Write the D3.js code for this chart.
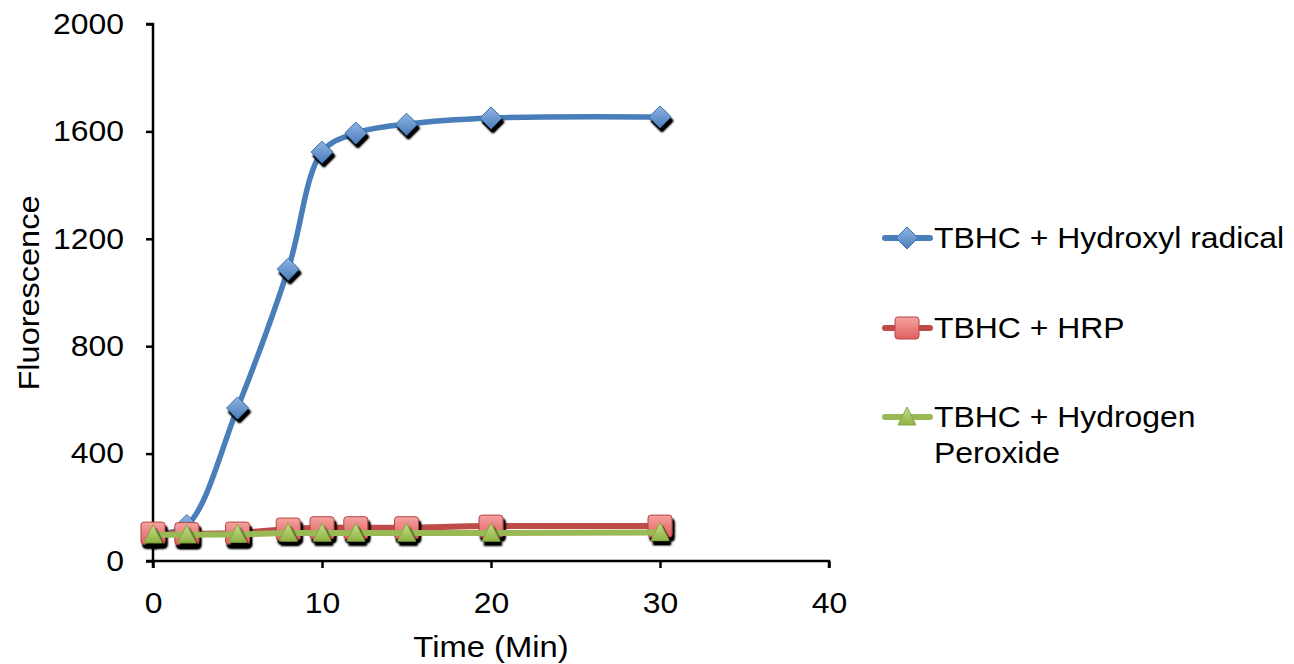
<!DOCTYPE html>
<html><head><meta charset="utf-8">
<script src="https://cdn.jsdelivr.net/npm/d3@7"></script>
<style>body{margin:0;background:#fff}text{font-family:"Liberation Sans",Arial,sans-serif}</style>
</head><body>
<svg id="c" width="1294" height="664"></svg>
<script>
const times = [0, 2, 5, 8, 10, 12, 15, 20, 30];
const hydroxyl = [100, 132, 570, 1087, 1523, 1594, 1627, 1650, 1654];
const hrp = [104, 102, 104, 119, 124, 124, 124, 130, 130];
const peroxide = [98, 98, 100, 104, 104, 104, 104, 104, 106];
const xTicks = [0, 10, 20, 30, 40];
const yTicks = [0, 400, 800, 1200, 1600, 2000];
const seriesNames = ["TBHC + Hydroxyl radical", "TBHC + HRP", "TBHC + Hydrogen Peroxide"];

const FS = 29, STRETCH = 1.1;
const svg = d3.select("#c");
const x = d3.scaleLinear().domain([0, 40]).range([153, 829]);
const y = d3.scaleLinear().domain([0, 2000]).range([561, 24]);

function stretch(sel, k){
  sel.each(function(){
    const n = this; const w = n.getComputedTextLength();
    d3.select(n).attr("textLength", w*k).attr("lengthAdjust","spacingAndGlyphs");
  });
}

const defs = svg.append("defs");
const f = defs.append("filter").attr("id","sh").attr("x","-50%").attr("y","-50%").attr("width","200%").attr("height","200%");
f.append("feGaussianBlur").attr("in","SourceAlpha").attr("stdDeviation",1.3).attr("result","b");
f.append("feOffset").attr("in","b").attr("dx",2).attr("dy",4).attr("result","o");
f.append("feComponentTransfer").attr("in","o").attr("result","o2").append("feFuncA").attr("type","linear").attr("slope",1.5);
const m = f.append("feMerge"); m.append("feMergeNode").attr("in","o2"); m.append("feMergeNode").attr("in","SourceGraphic");

function grad(id, c1, c2){
  const g = defs.append("linearGradient").attr("id",id).attr("x1",0).attr("y1",0).attr("x2",0).attr("y2",1);
  g.append("stop").attr("offset","0%").attr("stop-color",c1);
  g.append("stop").attr("offset","100%").attr("stop-color",c2);
}
grad("gb","#8fb4e3","#4a7ebb");
grad("gr","#f4a3a1","#e0605d");
grad("gg","#c6e08a","#8fb244");

// axes
const ax = svg.append("g").attr("transform",`translate(0,${y(0)})`)
  .call(d3.axisBottom(x).tickValues(xTicks).tickFormat(d3.format("d")).tickSize(7).tickPadding(24));
const ay = svg.append("g").attr("transform",`translate(${x(0)},0)`)
  .call(d3.axisLeft(y).tickValues(yTicks).tickFormat(d3.format("d")).tickSize(7).tickPadding(22));
[ax, ay].forEach(a => {
  a.attr("font-size", FS).attr("font-family", "'Liberation Sans',Arial,sans-serif");
  a.select(".domain").attr("stroke","#000").attr("stroke-width",2.5);
  a.selectAll(".tick line").attr("stroke","#000").attr("stroke-width",2.5);
  a.selectAll("text").attr("font-size",FS).attr("fill","#000");
  stretch(a.selectAll("text"), STRETCH);
});
ay.select(".domain").attr("d", `M-7,${y(2000)}H0V${y(0)}H-7`);
ax.select(".domain").attr("d", `M${x(0)},7V0H${x(40)}V7`);

svg.append("text").attr("x",491).attr("y",657).attr("text-anchor","middle").attr("font-size",FS).text("Time (Min)").call(stretch, 1.13);
svg.append("text").attr("transform","translate(39,293) rotate(-90)").attr("text-anchor","middle").attr("font-size",FS).text("Fluorescence").call(stretch, 1.12);

const series = [
  {name: seriesNames[0], vals: hydroxyl, line:"#4a7ebb", fill:"url(#gb)", stroke:"#3f6fa8", shape:"diamond", w:5.5},
  {name: seriesNames[1], vals: hrp, line:"#be4b48", fill:"url(#gr)", stroke:"#b54542", shape:"square", w:6},
  {name: seriesNames[2], vals: peroxide, line:"#98b954", fill:"url(#gg)", stroke:"#86a742", shape:"triangle", w:6}
];

function marker(sel, shape){
  if (shape === "diamond") sel.append("path").attr("d","M0,-11L11,0L0,11L-11,0Z");
  else if (shape === "square") sel.append("rect").attr("x",-12).attr("y",-11).attr("width",24).attr("height",22).attr("rx",3);
  else sel.append("path").attr("d","M0,-10L9,8L-9,8Z");
}

const lineGen = d3.line().x(d=>x(d[0])).y(d=>y(d[1])).curve(d3.curveCatmullRom.alpha(0.5));
series.forEach(s => {
  const pts = times.map((t,i)=>[t, s.vals[i]]);
  svg.append("path").attr("d", lineGen(pts)).attr("fill","none").attr("stroke",s.line).attr("stroke-width",s.w).attr("stroke-linecap","round");
  const g = svg.append("g").attr("filter","url(#sh)");
  pts.forEach(p => {
    const mk = g.append("g").attr("transform",`translate(${x(p[0])},${y(p[1])})`).attr("fill",s.fill).attr("stroke",s.stroke).attr("stroke-width",1);
    marker(mk, s.shape);
  });
});

// legend
const legY = [238, 328, 417];
series.forEach((s,i) => {
  const g = svg.append("g").attr("transform",`translate(0,${legY[i]})`);
  g.append("line").attr("x1",885).attr("x2",930).attr("y1",0).attr("y2",0).attr("stroke",s.line).attr("stroke-width",6).attr("stroke-linecap","round");
  const mk = g.append("g").attr("transform","translate(907,0)").attr("fill",s.fill).attr("stroke",s.stroke).attr("stroke-width",1);
  marker(mk, s.shape);
  if (i === 2) {
    g.append("text").attr("x",934).attr("y",10).attr("font-size",FS).text("TBHC + Hydrogen").call(stretch, STRETCH);
    g.append("text").attr("x",934).attr("y",46).attr("font-size",FS).text("Peroxide").call(stretch, STRETCH);
  } else g.append("text").attr("x",934).attr("y",10).attr("font-size",FS).text(s.name).call(stretch, STRETCH);
});
</script>
</body></html>
